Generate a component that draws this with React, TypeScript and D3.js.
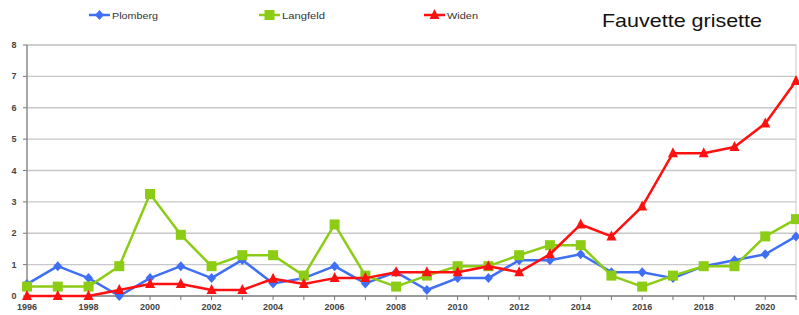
import React from "react";
import * as d3 from "d3";

const years = d3.range(1996, 2022);
const plomberg = [0.38, 0.95, 0.57, 0, 0.57, 0.95, 0.57, 1.15, 0.4, 0.57, 0.95, 0.4, 0.76, 0.19, 0.57, 0.57, 1.14, 1.14, 1.33, 0.76, 0.76, 0.57, 0.95, 1.14, 1.33, 1.9];
const langfeld = [0.3, 0.3, 0.3, 0.95, 3.25, 1.95, 0.95, 1.3, 1.3, 0.65, 2.28, 0.65, 0.3, 0.65, 0.95, 0.95, 1.3, 1.62, 1.62, 0.65, 0.3, 0.65, 0.95, 0.95, 1.9, 2.45];
const widen = [0, 0, 0, 0.19, 0.38, 0.38, 0.19, 0.19, 0.55, 0.38, 0.57, 0.57, 0.76, 0.76, 0.76, 0.95, 0.76, 1.33, 2.28, 1.9, 2.85, 4.55, 4.55, 4.75, 5.5, 6.85];
const yTicks = [0, 1, 2, 3, 4, 5, 6, 7, 8];
const xLabelYears = d3.range(1996, 2022, 2);

const series = [
  { name: "Plomberg", values: plomberg, color: "#3f6ff5", marker: "diamond" },
  { name: "Langfeld", values: langfeld, color: "#8ccc14", marker: "square" },
  { name: "Widen", values: widen, color: "#ff1010", marker: "triangle" },
];

function Marker({ type, x, y, color }: { type: string; x: number; y: number; color: string }) {
  if (type === "square") return <rect x={x - 5} y={y - 5} width={10} height={10} fill={color} />;
  if (type === "diamond") return <path d={`M${x},${y - 5}L${x + 4.5},${y}L${x},${y + 5}L${x - 4.5},${y}Z`} fill={color} />;
  return <path d={`M${x},${y - 6}L${x + 5},${y + 4}L${x - 5},${y + 4}Z`} fill={color} />;
}

export default function App() {
  const W = 799, H = 315;
  const x = d3.scaleLinear().domain([1996, 2021]).range([27, 796]);
  const y = d3.scaleLinear().domain([0, 8]).range([296, 45]);
  const line = d3.line<number>().x((_, i) => x(years[i])).y((v) => y(v));
  const legend = [
    { s: series[0], x0: 89, tw: 46 },
    { s: series[1], x0: 259, tw: 43 },
    { s: series[2], x0: 424, tw: 31 },
  ];
  return (
    <svg width={W} height={H} style={{ position: "absolute", left: 0, top: 0, background: "#fff" }} fontFamily="Liberation Sans, Arial, sans-serif">
      <rect x={x(1996)} y={y(8)} width={x(2021) - x(1996)} height={y(0) - y(8)} fill="none" stroke="#c8c8c8" strokeWidth={1} />
      {yTicks.map((t) => (
        <g key={t}>
          <line x1={x(1996)} x2={x(2021)} y1={y(t)} y2={y(t)} stroke="#c8c8c8" strokeWidth={1.3} />
          <line x1={x(1996) - 4} x2={x(1996)} y1={y(t)} y2={y(t)} stroke="#777" />
          <text x={14} y={y(t) + 3} fontSize={9} fontWeight="bold" fill="#444" textAnchor="middle">{t}</text>
        </g>
      ))}
      <line x1={x(1996)} x2={x(1996)} y1={y(8)} y2={y(0)} stroke="#888" strokeWidth={1.3} />
      <line x1={x(1996)} x2={x(2021)} y1={y(0)} y2={y(0)} stroke="#888" strokeWidth={1.3} />
      {years.map((yr) => (
        <line key={yr} x1={x(yr)} x2={x(yr)} y1={y(0)} y2={y(0) + 4} stroke="#777" />
      ))}
      {xLabelYears.map((yr) => (
        <text key={yr} x={x(yr)} y={310} fontSize={9} fontWeight="bold" fill="#444" textAnchor="middle">{yr}</text>
      ))}
      {series.map((s) => (
        <g key={s.name}>
          <path d={line(s.values) || ""} fill="none" stroke={s.color} strokeWidth={2.5} strokeLinejoin="round" />
          {s.values.map((v, i) => (
            <Marker key={i} type={s.marker} x={x(years[i])} y={y(v)} color={s.color} />
          ))}
        </g>
      ))}
      {legend.map(({ s, x0, tw }) => (
        <g key={s.name}>
          <line x1={x0} x2={x0 + 21} y1={15} y2={15} stroke={s.color} strokeWidth={2.5} />
          <Marker type={s.marker} x={x0 + 10.5} y={15} color={s.color} />
          <text x={x0 + 23} y={18.5} fontSize={9.5} fill="#333" textLength={tw} lengthAdjust="spacingAndGlyphs">{s.name}</text>
        </g>
      ))}
      <text x={602} y={27} fontSize={18.5} fill="#111" textLength={160} lengthAdjust="spacingAndGlyphs">Fauvette grisette</text>
    </svg>
  );
}
